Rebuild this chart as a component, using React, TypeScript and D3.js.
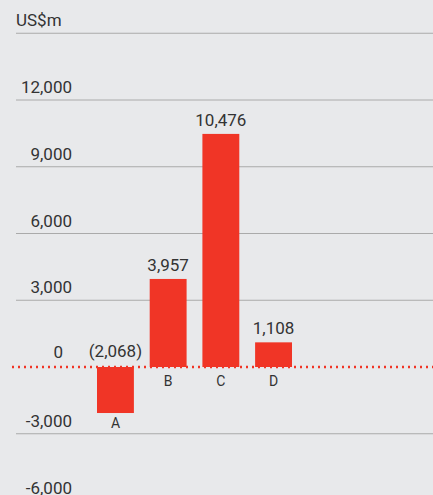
import React from "react";
import * as d3 from "d3";

const categories = ["A", "B", "C", "D"];
const values = [-2068, 3957, 10476, 1108];
const valueLabels = ["(2,068)", "3,957", "10,476", "1,108"];
const tickValues = [12000, 9000, 6000, 3000, 0, -3000, -6000];
const tickLabels = ["12,000", "9,000", "6,000", "3,000", "0", "-3,000", "-6,000"];
const unitLabel = "US$m";
const unitValue = 15000;

const W = 433;
const H = 495;
const BG = "#e8e9eb";
const RED = "#f03526";
const TEXT = "#333333";
const GRID = "#aaaaaa";
const FONT = "Roboto, 'Liberation Sans', Arial, sans-serif";

export default function App() {
  const x = d3.scaleBand<string>().domain(categories).range([97, 292]).paddingInner(0.3).paddingOuter(0);
  const y = d3.scaleLinear().domain([0, 12000]).range([367, 100]);
  const y0 = y(0);

  return (
    <svg
      width={W}
      height={H}
      style={{ position: "fixed", left: 0, top: 0, display: "block", background: BG }}
      fontFamily={FONT}
    >
      <rect x={0} y={0} width={W} height={H} fill={BG} />
      {/* unit line */}
      <line x1={16} x2={W} y1={y(unitValue)} y2={y(unitValue)} stroke={GRID} strokeWidth={1} />
      <text x={16} y={y(unitValue) - 7} fontSize={17} fill={TEXT}>
        {unitLabel}
      </text>
      {tickValues.map((v, i) => (
        <g key={v}>
          {v !== 0 && (
            <line x1={16} x2={W} y1={y(v)} y2={y(v)} stroke={GRID} strokeWidth={1} />
          )}
          <text
            x={v === 0 ? 63 : 72}
            y={y(v) - (v === 0 ? 9 : 7)}
            fontSize={17}
            fill={TEXT}
            textAnchor="end"
          >
            {tickLabels[i]}
          </text>
        </g>
      ))}
      {categories.map((c, i) => {
        const v = values[i];
        const bx = x(c) as number;
        const bw = x.bandwidth();
        const top = v >= 0 ? y(v) : y0;
        const bottom = v >= 0 ? y0 : y(v);
        const cx = bx + bw / 2;
        return (
          <g key={c}>
            <rect x={bx} y={top} width={bw} height={bottom - top} fill={RED} />
            <text
              x={cx}
              y={v >= 0 ? top - 8 : y0 - 10}
              fontSize={17}
              fill={TEXT}
              textAnchor="middle"
            >
              {valueLabels[i]}
            </text>
            <text
              x={cx}
              y={v >= 0 ? y0 + 19 : bottom + 15}
              fontSize={14}
              fill={TEXT}
              textAnchor="middle"
            >
              {c}
            </text>
          </g>
        );
      })}
      <line
        x1={12}
        x2={W}
        y1={y0}
        y2={y0}
        stroke={RED}
        strokeWidth={2.5}
        strokeDasharray="2 4"
      />
    </svg>
  );
}
